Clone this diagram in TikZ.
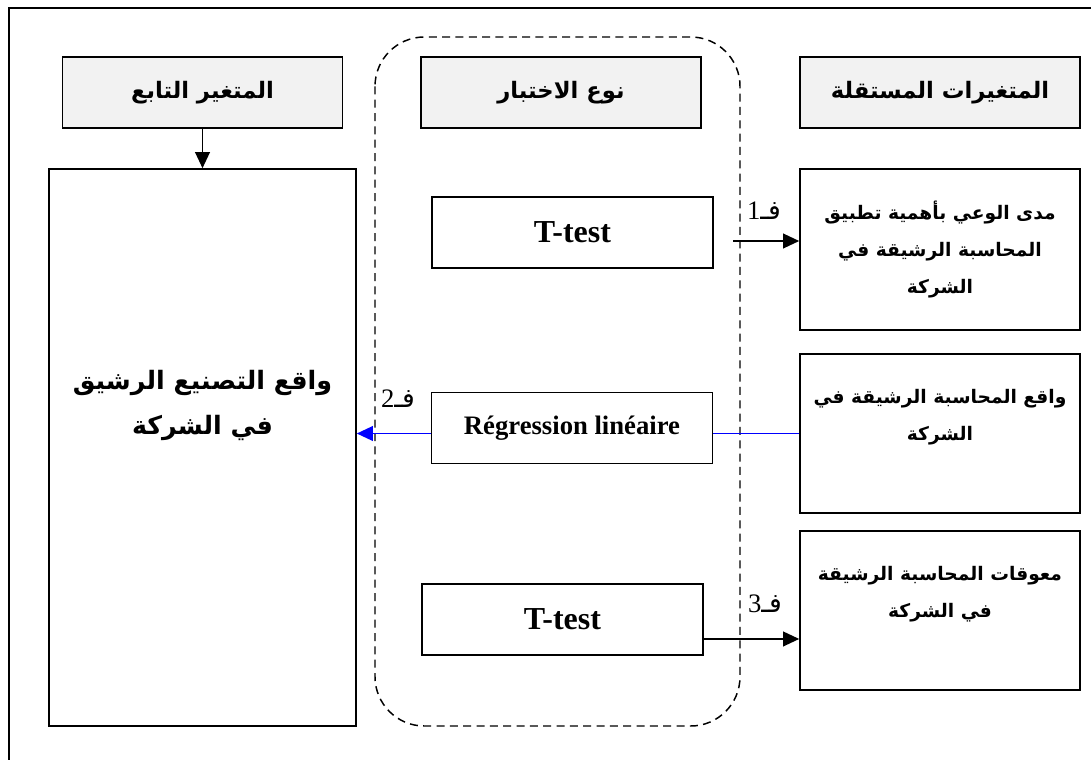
\documentclass[tikz,border=0pt]{standalone}
\usepackage{fontspec}
\setmainfont{Liberation Serif}
\newfontfamily\arabicfont[Script=Arabic]{DejaVu Sans}
\usetikzlibrary{arrows.meta}
\TeXXeTstate=1
\newlength\px
\setlength\px{0.75pt}
\newcommand\ar[1]{\beginR #1\endR}

\begin{document}
\begin{tikzpicture}[x=1\px,y=-1\px,
    head/.style={draw,line width=1.2pt,fill=black!5,minimum width=280\px,minimum height=71\px,inner sep=0pt,font=\arabicfont\bfseries\fontsize{17}{20}\selectfont},
    varbox/.style={draw,line width=1.2pt,minimum width=280\px,inner sep=0pt,align=center,font=\arabicfont\bfseries\fontsize{14}{28}\selectfont},
    testbox/.style={draw,line width=1.2pt,minimum width=281\px,minimum height=71\px,inner sep=0pt,font=\bfseries\fontsize{24}{26}\selectfont},
    link/.style={line width=1.2pt,-{Triangle[length=12pt,width=11pt]}},
    hyp/.style={inner sep=0pt,font=\fontsize{20}{22}\selectfont}]
    \useasboundingbox (0,0) rectangle (1091,760);
    \draw [line width=1.5pt] (1091,8) -- (9,8) -- (9,760);
    % test group
    \draw [line width=1.1pt,dash pattern=on 6pt off 4pt,rounded corners=37pt] (375,37) rectangle (740,726);
    % headers
    \node [head] (hdep)  at (202.5,92.5) {\ar{المتغير التابع}};
    \node [head] (htest) at (561,92.5)   {\ar{نوع الاختبار}};
    \node [head] (hind)  at (940,92.5)   {\ar{المتغيرات المستقلة}};
    % dependent variable
    \node [varbox,minimum width=307\px,minimum height=557\px,font=\arabicfont\bfseries\fontsize{19}{34}\selectfont] (dep) at (202.5,447.5)
        {\ar{واقع التصنيع الرشيق}\\ \ar{في الشركة}\\ \mbox{}\\ \mbox{}};
    % tests
    \node [testbox] (t1)  at (572.5,232.5) {T-test};
    \node [testbox,font=\bfseries\fontsize{20}{22}\selectfont] (reg) at (572,428) {Régression linéaire\hspace{22pt}};
    \node [testbox] (t2)  at (562.5,619.5) {T-test};
    % independent variables
    \node [varbox,minimum height=161\px] (v1) at (940,249.5)
        {\ar{مدى الوعي بأهمية تطبيق}\\ \ar{المحاسبة الرشيقة في}\\ \ar{الشركة}};
    \node [varbox,minimum height=159\px] (v2) at (940,433.5)
        {\ar{واقع المحاسبة الرشيقة في}\\ \ar{الشركة}\\ \mbox{}};
    \node [varbox,minimum height=159\px] (v3) at (940,610.5)
        {\ar{معوقات المحاسبة الرشيقة}\\ \ar{في الشركة}\\ \mbox{}};
    % links
    \draw [link] (hdep) -- (dep);
    \coordinate (a1) at (733,241);
    \draw [link] (a1) -- (a1 -| v1.west);
    \draw [blue,line width=1.2pt] (v2.west) -- (v2.west -| reg.east);
    \draw [link,blue] (v2.west -| reg.west) -- (v2.west -| dep.east);
    \coordinate (a3) at ([yshift=-14.6pt]t2.east);
    \draw [link] (a3) -- (a3 -| v3.west);
    % hypotheses
    \node [hyp] (f1) at (764,211) {\ar{{\arabicfont فـ}1}};
    \node [hyp] (f2) at (398,399) {\ar{{\arabicfont فـ}2}};
    \node [hyp] (f3) at (765,604) {\ar{{\arabicfont فـ}3}};
\end{tikzpicture}
\end{document}
